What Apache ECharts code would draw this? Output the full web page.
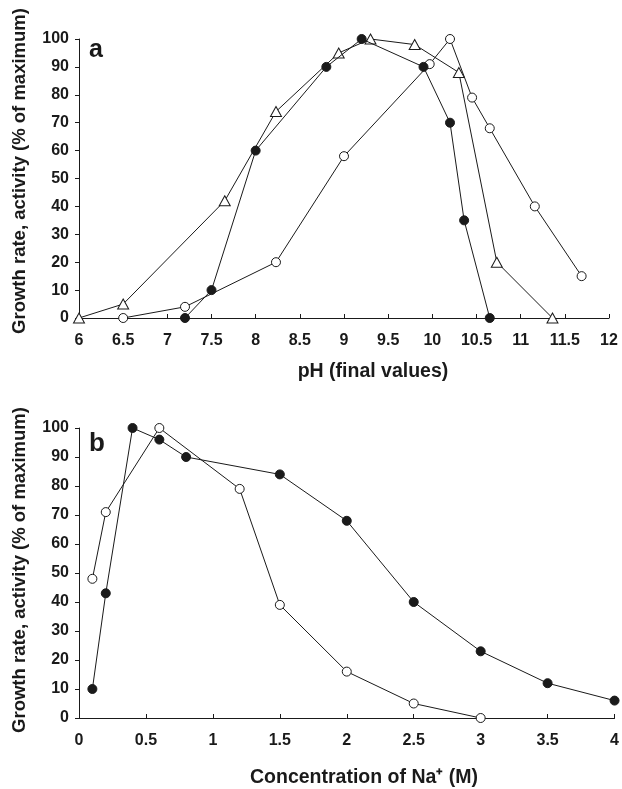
<!DOCTYPE html>
<html>
<head>
<meta charset="utf-8">
<script src="https://cdn.jsdelivr.net/npm/echarts@6/dist/echarts.min.js"></script>
<style>
html,body{margin:0;padding:0;background:#fff;}
#chart{width:622px;height:789px;}
</style>
</head>
<body>
<div id="chart"></div>
<script>
// Panel a: pH
const phFilledX = [7.2, 7.5, 8.0, 8.8, 9.2, 9.9, 10.2, 10.36, 10.65];
const phFilledY = [0, 10, 60, 90, 100, 90, 70, 35, 0];
const phTriX = [6.0, 6.5, 7.65, 8.23, 8.94, 9.3, 9.8, 10.3, 10.73, 11.36];
const phTriY = [0, 5, 42, 74, 95, 100, 98, 88, 20, 0];
const phOpenX = [6.5, 7.2, 8.23, 9.0, 9.97, 10.2, 10.45, 10.65, 11.16, 11.69];
const phOpenY = [0, 4, 20, 58, 91, 100, 79, 68, 40, 15];
// Panel b: Na+
const naFilledX = [0.1, 0.2, 0.4, 0.6, 0.8, 1.5, 2.0, 2.5, 3.0, 3.5, 4.0];
const naFilledY = [10, 43, 100, 96, 90, 84, 68, 40, 23, 12, 6];
const naOpenX = [0.1, 0.2, 0.6, 1.2, 1.5, 2.0, 2.5, 3.0];
const naOpenY = [48, 71, 100, 79, 39, 16, 5, 0];

const yTitle = 'Growth rate, activity (% of maximum)';
const xTitleA = 'pH (final values)';
const xTitleB = 'Concentration of Na\u207A (M)';

const zip = (xs, ys) => xs.map((x, i) => [x, ys[i]]);
const INK = '#1a1a1a';
const FONT = 'Liberation Sans';

function xAxis(idx, min, max) {
  return {
    type: 'value', gridIndex: idx, min: min, max: max, interval: 0.5,
    axisLine: { show: true, lineStyle: { color: INK, width: 1 } },
    axisTick: { show: true, inside: true, length: 4, lineStyle: { color: INK } },
    axisLabel: { margin: 15, color: INK, fontFamily: FONT, fontWeight: 'bold', fontSize: 16 },
    splitLine: { show: false }
  };
}
function yAxis(idx) {
  return {
    type: 'value', gridIndex: idx, min: 0, max: 100, interval: 10,
    axisLine: { show: true, lineStyle: { color: INK, width: 1 } },
    axisTick: { show: true, inside: false, length: 4, lineStyle: { color: INK } },
    axisLabel: { margin: 10, color: INK, fontFamily: FONT, fontWeight: 'bold', fontSize: 16 },
    splitLine: { show: false }
  };
}
function series(idx, data, symbol, filled, size) {
  return {
    type: 'line', xAxisIndex: idx, yAxisIndex: idx, data: data,
    symbol: symbol, symbolSize: size, showSymbol: true, clip: false,
    lineStyle: { color: INK, width: 1 },
    itemStyle: { color: filled ? INK : '#fff', borderColor: INK, borderWidth: 1 },
    animation: false, z: filled ? 4 : 3
  };
}

const chart = echarts.init(document.getElementById('chart'), null, { renderer: 'canvas' });
chart.setOption({
  backgroundColor: '#fff',
  animation: false,
  grid: [
    { left: 79, top: 39, width: 530, height: 279 },
    { left: 79, top: 428, width: 542, height: 290 }
  ],
  xAxis: [xAxis(0, 6, 12), xAxis(1, 0, 4)],
  yAxis: [yAxis(0), yAxis(1)],
  series: [
    series(0, zip(phTriX, phTriY), 'triangle', false, [11, 10]),
    series(0, zip(phOpenX, phOpenY), 'circle', false, 9),
    series(0, zip(phFilledX, phFilledY), 'circle', true, 9),
    series(1, zip(naOpenX, naOpenY), 'circle', false, 9),
    series(1, zip(naFilledX, naFilledY), 'circle', true, 9)
  ],
  graphic: [
    { type: 'text', x: 20, y: 171, rotation: Math.PI / 2,
      style: { text: yTitle, fill: INK, font: 'bold 18.5px "Liberation Sans"', textAlign: 'center', textVerticalAlign: 'middle' } },
    { type: 'text', x: 20, y: 570, rotation: Math.PI / 2,
      style: { text: yTitle, fill: INK, font: 'bold 18.5px "Liberation Sans"', textAlign: 'center', textVerticalAlign: 'middle' } },
    { type: 'text', x: 373, y: 372,
      style: { text: xTitleA, fill: INK, font: 'bold 19.5px "Liberation Sans"', textAlign: 'center', textVerticalAlign: 'middle' } },
    { type: 'text', x: 364, y: 778,
      style: { text: xTitleB, fill: INK, font: 'bold 19.5px "Liberation Sans"', textAlign: 'center', textVerticalAlign: 'middle' } },
    { type: 'text', x: 89, y: 50,
      style: { text: 'a', fill: INK, font: 'bold 25px "Liberation Sans"', textAlign: 'left', textVerticalAlign: 'middle' } },
    { type: 'text', x: 89, y: 444,
      style: { text: 'b', fill: INK, font: 'bold 26px "Liberation Sans"', textAlign: 'left', textVerticalAlign: 'middle' } }
  ]
});
</script>
</body>
</html>
